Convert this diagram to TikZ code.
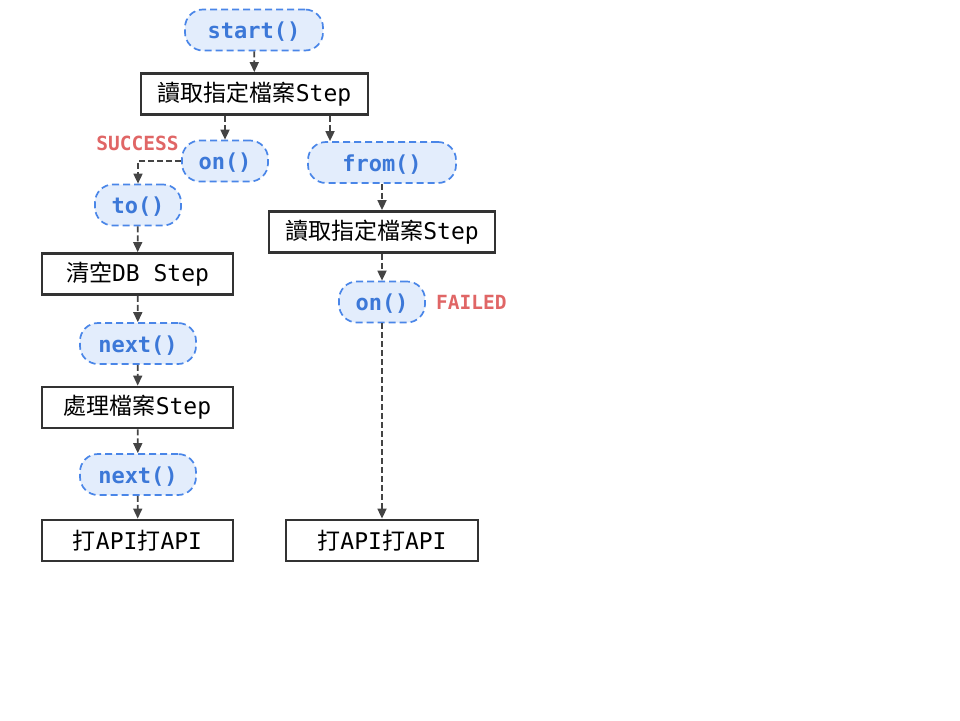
\documentclass[tikz,border=0pt]{standalone}
\usepackage{fontspec}
\setmonofont{DejaVu Sans Mono}
\newfontfamily\cjk{Noto Sans CJK TC}
\usetikzlibrary{arrows.meta}
\definecolor{pillfill}{HTML}{E3EDFC}
\definecolor{pillline}{HTML}{4A86E8}
\definecolor{pilltext}{HTML}{3C78D8}
\definecolor{boxline}{HTML}{333333}
\definecolor{arrowc}{HTML}{444444}
\definecolor{labred}{HTML}{E06666}
\tikzset{
  pill/.style={draw=pillline, fill=pillfill, dash pattern=on 7pt off 4pt, line width=1.7pt,
    rounded corners=18pt, minimum height=41pt, inner sep=0pt, text=pilltext,
    text height=20.5pt, text depth=3pt,
    font=\ttfamily\bfseries\fontsize{22}{26}\selectfont},
  stepbox/.style={draw=boxline, line width=2.8pt, fill=white, minimum height=41pt, inner sep=0pt,
    font=\ttfamily\fontsize{23}{27}\selectfont},
  flow/.style={draw=arrowc, line width=1.7pt, dash pattern=on 6pt off 3pt,
    -{Triangle[length=10pt,width=9pt]}},
  lab/.style={text=labred, inner sep=0pt, font=\ttfamily\bfseries\fontsize{19.5}{23}\selectfont}
}
\begin{document}
\begin{tikzpicture}[x=1pt,y=-1pt]
\useasboundingbox (0,0) rectangle (960,720);
\node[pill, minimum width=138pt] (start) at (254,30) {start()};
\node[stepbox, minimum width=227pt] (b1) at (254.5,94) {{\cjk 讀取指定檔案}Step};
\node[pill, minimum width=86pt] (on1) at (225,161) {on()};
\node[pill, minimum width=148pt] (from) at (382,162.5) {from()};
\node[pill, minimum width=86pt] (to) at (138,205) {to()};
\node[stepbox, minimum width=226pt] (b2) at (382,232) {{\cjk 讀取指定檔案}Step};
\node[stepbox, minimum width=191pt] (clear) at (137.5,274) {{\cjk 清空}DB Step};
\node[pill, minimum width=86pt] (on2) at (382,302) {on()};
\node[pill, minimum width=116pt] (next1) at (138,343.5) {next()};
\node[stepbox, minimum width=191pt] (proc) at (137.5,407.5) {{\cjk 處理檔案}Step};
\node[pill, minimum width=116pt] (next2) at (138,474.5) {next()};
\node[stepbox, minimum width=191pt] (api1) at (137.5,540.5) {{\cjk 打}API{\cjk 打}API};
\node[stepbox, minimum width=192pt] (api2) at (382,540.5) {{\cjk 打}API{\cjk 打}API};
\node[lab] (succ) at (137.5,143) {SUCCESS};
\node[lab, anchor=west] (fail) at (436,302) {FAILED};
\coordinate (b1r) at ([xshift=75.5pt]b1.south);
\draw[flow] (start) -- (b1);
\draw[flow] (on1 |- b1.south) -- (on1.north);
\draw[flow] (b1r) -- (b1r |- from.north);
\draw[flow] (on1.west) -| (to.north);
\draw[flow] (to) -- (clear);
\draw[flow] (clear) -- (next1);
\draw[flow] (next1) -- (proc);
\draw[flow] (proc) -- (next2);
\draw[flow] (next2) -- (api1);
\draw[flow] (from) -- (b2);
\draw[flow] (b2) -- (on2);
\draw[flow] (on2) -- (api2);
\end{tikzpicture}
\end{document}
